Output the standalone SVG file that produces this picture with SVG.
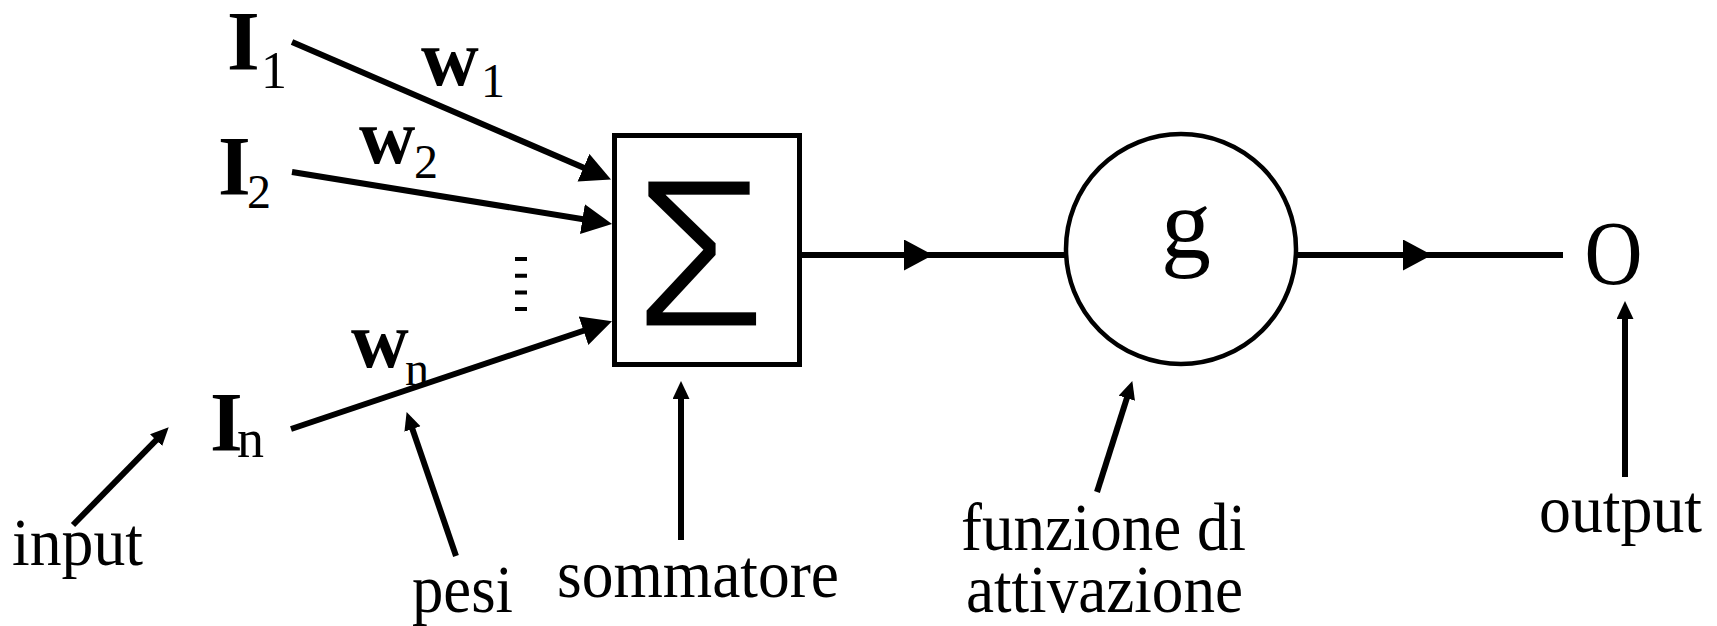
<svg xmlns="http://www.w3.org/2000/svg" width="1717" height="626" viewBox="0 0 1717 626">
<style>
.t{font-family:"Liberation Serif","Times New Roman",serif;fill:#000}
.b{font-weight:bold}
.lbl{font-size:67px}
.ln{stroke:#000;stroke-width:6;fill:none}
.an{stroke:#000;stroke-width:6;fill:none}
</style>
<defs>
<marker id="ah" markerUnits="userSpaceOnUse" markerWidth="32" markerHeight="32" refX="18" refY="15" orient="auto">
<path d="M0,0 L30,15 L0,30 Z" fill="#000"/>
</marker>
<marker id="am" markerUnits="userSpaceOnUse" markerWidth="32" markerHeight="32" refX="29" refY="15.5" orient="auto">
<path d="M0,0 L29,15.5 L0,31 Z" fill="#000"/>
</marker>
<marker id="sa" markerUnits="userSpaceOnUse" markerWidth="20" markerHeight="20" refX="11" refY="8.5" orient="auto">
<path d="M0,0 L18,8.5 L0,17 Z" fill="#000"/>
</marker>
</defs>
<rect width="1717" height="626" fill="#fff"/>

<g id="connectors">
<line class="ln" x1="292" y1="42" x2="600" y2="174.8" marker-end="url(#ah)"/>
<line class="ln" x1="292" y1="172" x2="600.2" y2="222" marker-end="url(#ah)"/>
<line class="ln" x1="291" y1="429" x2="600.6" y2="325" marker-end="url(#ah)"/>
<path class="ln" d="M802,255 L933,255 L1066,255" marker-mid="url(#am)"/>
<path class="ln" d="M1297,255 L1432,255 L1563,255" marker-mid="url(#am)"/>
<line class="an" x1="73" y1="525" x2="163.8" y2="432.3" marker-end="url(#sa)"/>
<line class="an" x1="456" y1="556" x2="408.9" y2="418.7" marker-end="url(#sa)"/>
<line class="an" x1="681" y1="540" x2="681" y2="388" marker-end="url(#sa)"/>
<line class="an" x1="1097" y1="492" x2="1130.2" y2="387.7" marker-end="url(#sa)"/>
<line class="an" x1="1625" y1="477" x2="1625" y2="308" marker-end="url(#sa)"/>
</g>

<g id="input1">
<text class="t"><tspan class="b" x="227" y="70" font-size="84">I</tspan><tspan x="261" y="88" font-size="52">1</tspan></text>
</g>
<g id="input2">
<text class="t"><tspan class="b" x="218" y="195" font-size="84">I</tspan><tspan x="247" y="208" font-size="48">2</tspan></text>
</g>
<g id="inputn">
<text class="t"><tspan class="b" x="210" y="451" font-size="84">I</tspan><tspan x="237" y="457" font-size="54">n</tspan></text>
</g>
<g id="ellipsis">
<line x1="521" y1="257" x2="521" y2="312" stroke="#000" stroke-width="12" stroke-dasharray="4 12.7"/>
</g>
<g id="weight1">
<text class="t"><tspan class="b" x="421" y="85" font-size="80">w</tspan><tspan x="481" y="97" font-size="48">1</tspan></text>
</g>
<g id="weight2">
<text class="t"><tspan class="b" x="359" y="163" font-size="78">w</tspan><tspan x="414" y="178" font-size="48">2</tspan></text>
</g>
<g id="weightn">
<text class="t"><tspan class="b" x="351" y="367" font-size="80">w</tspan><tspan x="405" y="385" font-size="48">n</tspan></text>
</g>

<g id="sommatore-node">
<rect x="614.5" y="135.5" width="185" height="229" fill="#fff" stroke="#000" stroke-width="5"/>
<text x="700" y="327" font-family="Liberation Sans, Arial, sans-serif" font-size="214" text-anchor="middle" fill="#000" stroke="#fff" stroke-width="3">Σ</text>
</g>

<g id="attivazione-node">
<circle cx="1181" cy="249" r="115" fill="#fff" stroke="#000" stroke-width="4.5"/>
<text class="t" x="1186" y="258" font-size="100" text-anchor="middle">g</text>
</g>

<g id="output-node">
<text class="t" x="1613.5" y="284" font-size="90" text-anchor="middle" textLength="58" lengthAdjust="spacingAndGlyphs">O</text>
</g>

<g id="labels">
<text class="t lbl" x="12" y="565" textLength="131" lengthAdjust="spacingAndGlyphs">input</text>
<text class="t lbl" x="412" y="612" textLength="101" lengthAdjust="spacingAndGlyphs">pesi</text>
<text class="t lbl" x="557" y="597" textLength="282" lengthAdjust="spacingAndGlyphs">sommatore</text>
<text class="t lbl" x="961" y="550" textLength="285" lengthAdjust="spacingAndGlyphs">funzione di</text>
<text class="t lbl" x="966" y="612" textLength="277" lengthAdjust="spacingAndGlyphs">attivazione</text>
<text class="t lbl" x="1539" y="532" textLength="163" lengthAdjust="spacingAndGlyphs">output</text>
</g>
</svg>
